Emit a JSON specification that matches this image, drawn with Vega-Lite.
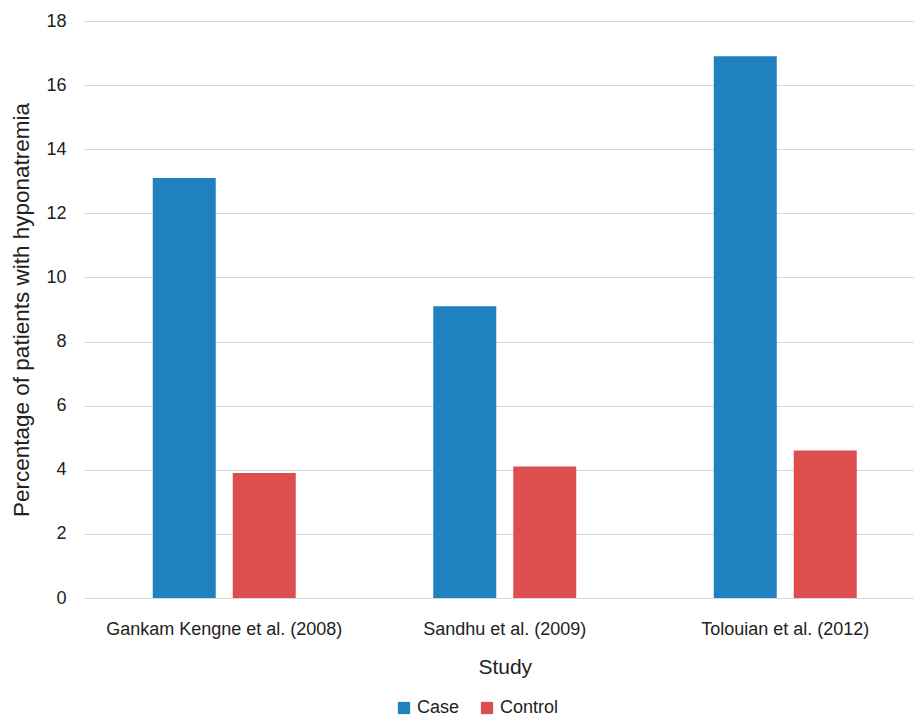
{
  "$schema": "https://vega.github.io/schema/vega-lite/v6.json",
  "autosize": {"type": "none"},
  "padding": {"left": 84, "top": 21, "right": 0, "bottom": 118},
  "width": 841.5,
  "height": 577,
  "background": "white",
  "config": {
    "font": "Liberation Sans",
    "view": {"stroke": null}
  },
  "data": {
    "values": [
      {"study": "Gankam Kengne et al. (2008)", "group": "Case", "value": 13.1},
      {"study": "Gankam Kengne et al. (2008)", "group": "Control", "value": 3.9},
      {"study": "Sandhu et al. (2009)", "group": "Case", "value": 9.1},
      {"study": "Sandhu et al. (2009)", "group": "Control", "value": 4.1},
      {"study": "Tolouian et al. (2012)", "group": "Case", "value": 16.9},
      {"study": "Tolouian et al. (2012)", "group": "Control", "value": 4.6}
    ]
  },
  "mark": {"type": "bar"},
  "encoding": {
    "x": {
      "field": "study",
      "type": "nominal",
      "sort": null,
      "title": "Study",
      "scale": {"paddingInner": 0.4902, "paddingOuter": 0.2451},
      "axis": {
        "labelAngle": 0,
        "labelFontSize": 18,
        "labelLimit": 400,
        "labelColor": "#222222",
        "labelPadding": 22,
        "ticks": false,
        "domain": true,
        "domainColor": "#d9d9d9",
        "titleFontSize": 21,
        "titleFontWeight": "normal",
        "titleColor": "#222222",
        "titlePadding": 18
      }
    },
    "xOffset": {
      "field": "group",
      "type": "nominal",
      "scale": {"paddingInner": 0.2125, "paddingOuter": 0}
    },
    "y": {
      "field": "value",
      "type": "quantitative",
      "title": "Percentage of patients with hyponatremia",
      "scale": {"domain": [0, 18], "nice": false},
      "axis": {
        "values": [0, 2, 4, 6, 8, 10, 12, 14, 16, 18],
        "labelFontSize": 18,
        "labelColor": "#222222",
        "labelPadding": 18,
        "ticks": false,
        "domain": false,
        "gridColor": "#d9d9d9",
        "titleFontSize": 22.5,
        "titleFontWeight": "normal",
        "titleColor": "#222222",
        "titlePadding": 12
      }
    },
    "color": {
      "field": "group",
      "type": "nominal",
      "scale": {"domain": ["Case", "Control"], "range": ["#1F81C0", "#DE4E4E"]},
      "legend": {
        "title": null,
        "orient": "none",
        "legendX": 311,
        "legendY": 678,
        "direction": "horizontal",
        "symbolType": "square",
        "symbolSize": 150,
        "symbolStrokeWidth": 0,
        "labelFontSize": 18,
        "labelColor": "#222222",
        "columnPadding": 18
      }
    }
  }
}
